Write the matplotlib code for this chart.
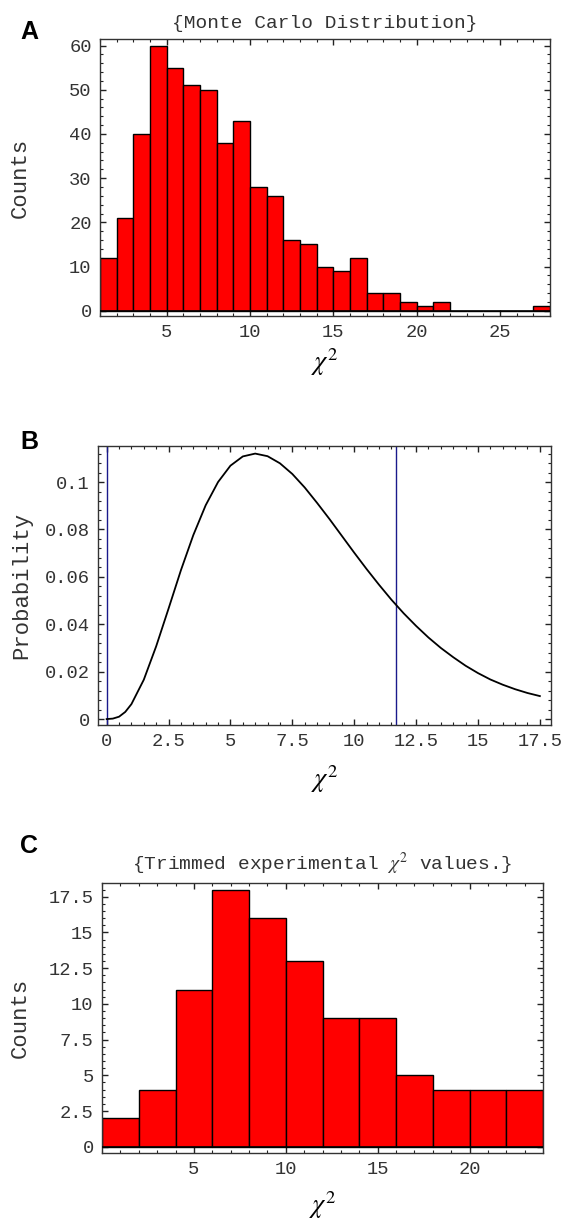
import numpy as np
import matplotlib
matplotlib.use("Agg")
import matplotlib.pyplot as plt
from matplotlib.ticker import FixedLocator, MultipleLocator

# panel A: Monte Carlo histogram, unit bins from 1 to 28
mc_edges = list(range(1, 29))
mc_counts = [12, 21, 40, 60, 55, 51, 50, 38, 43, 28, 26, 16, 15, 10, 9, 12,
             4, 4, 2, 1, 2, 0, 0, 0, 0, 0, 1]
a_xticks = [5, 10, 15, 20, 25]
a_yticks = [0, 10, 20, 30, 40, 50, 60]

# panel B: probability curve
pdf_x = [0, 0.25, 0.5, 0.75, 1, 1.5, 2, 2.5, 3, 3.5, 4, 4.5, 5, 5.5, 6, 6.5,
         7, 7.5, 8, 8.5, 9, 9.5, 10, 10.5, 11, 11.5, 12, 12.5, 13, 13.5, 14,
         14.5, 15, 15.5, 16, 16.5, 17, 17.5]
pdf_y = [0, 0.0002, 0.001, 0.003, 0.0063, 0.0166, 0.0307, 0.0466, 0.0628,
         0.0776, 0.0902, 0.1000, 0.1069, 0.1108, 0.1120, 0.1109, 0.1079,
         0.1034, 0.0977, 0.0912, 0.0844, 0.0773, 0.0702, 0.0633, 0.0567,
         0.0504, 0.0446, 0.0393, 0.0344, 0.0300, 0.0261, 0.0225, 0.0194,
         0.0167, 0.0145, 0.0126, 0.0110, 0.0097]
vlines_x = [0.0, 11.7]
b_xticks = [0, 2.5, 5, 7.5, 10, 12.5, 15, 17.5]
b_xlabels = ["0", "2.5", "5", "7.5", "10", "12.5", "15", "17.5"]
b_yticks = [0, 0.02, 0.04, 0.06, 0.08, 0.1]
b_ylabels = ["0", "0.02", "0.04", "0.06", "0.08", "0.1"]

# panel C: trimmed experimental values, bins of width 2
ex_edges = list(range(0, 26, 2))
ex_counts = [2, 4, 11, 18, 16, 13, 9, 9, 5, 4, 4, 4]
c_xticks = [5, 10, 15, 20]
c_yticks = [0, 2.5, 5, 7.5, 10, 12.5, 15, 17.5]
c_ylabels = ["0", "2.5", "5", "7.5", "10", "12.5", "15", "17.5"]

W, H = 562, 1223
MONO = "Liberation Mono"
GREY = "#333333"
plt.rcParams["mathtext.fontset"] = "stix"

fig = plt.figure(figsize=(W / 100, H / 100), dpi=100)


def px_axes(left, right, top, bottom):
  ax = fig.add_axes([left / W, 1 - bottom / H, (right - left) / W, (bottom - top) / H])
  ax._px = (left, right, top, bottom)
  return ax


def style(ax, xmin, ymin):
  for s in ax.spines.values():
    s.set_color(GREY)
    s.set_linewidth(1.0)
  ax.xaxis.set_minor_locator(MultipleLocator(xmin))
  ax.yaxis.set_minor_locator(MultipleLocator(ymin))
  ax.tick_params(which="both", direction="in", top=True, right=True, colors="#222222",
                 labelsize=13.5, labelcolor=GREY)
  ax.tick_params(which="major", length=4, width=1)
  ax.tick_params(which="minor", length=2, width=0.8)
  ax.tick_params(axis="x", pad=6)
  ax.tick_params(axis="y", pad=6)
  for lab in ax.get_xticklabels() + ax.get_yticklabels():
    lab.set_fontfamily(MONO)


def labels(ax, ylabel, ylab_x, xlab_y, title=None, title_y=None):
  left, right, top, bottom = ax._px
  ax.set_ylabel(ylabel, fontfamily=MONO, fontsize=16, color=GREY, va="center")
  ax.yaxis.set_label_coords((ylab_x - left) / (right - left), 0.5)
  ax.set_xlabel(r"$\chi^2$", fontsize=19, va="center")
  ax.xaxis.set_label_coords(0.5, (bottom - xlab_y) / (bottom - top))
  if title:
    ax.text(0.5, (bottom - title_y) / (bottom - top), title, transform=ax.transAxes,
            fontfamily=MONO, fontsize=14, color=GREY, ha="center", va="center")


def hist(ax, edges, counts):
  ax.bar(edges[:-1], counts, width=np.diff(edges), align="edge", color="#ff0000",
         edgecolor="black", linewidth=1.0, zorder=2)
  ax.axhline(0, color="black", linewidth=1.2, zorder=3)


def letter(s, y):
  fig.text(29 / W, 1 - y / H, s, fontfamily="Liberation Sans", fontweight="bold",
           fontsize=18, ha="center", va="center")


# ---- A
ax = px_axes(100, 550, 39, 316)
hist(ax, mc_edges, mc_counts)
ax.set_xlim(1, 28)
ax.set_ylim(-1.2, 61.5)
ax.xaxis.set_major_locator(FixedLocator(a_xticks))
ax.yaxis.set_major_locator(FixedLocator(a_yticks))
ax.set_xticklabels([str(t) for t in a_xticks])
ax.set_yticklabels([str(t) for t in a_yticks])
style(ax, 1, 2)
labels(ax, "Counts", 20, 362, "{Monte Carlo Distribution}", 23)
letter("A", 32)

# ---- B
ax = px_axes(98, 551, 446, 725)
ax.plot(pdf_x, pdf_y, color="black", linewidth=1.3, zorder=3)
for v in vlines_x:
  ax.axvline(v, color="#1a1a8c", linewidth=1.0, zorder=2)
ax.set_xlim(-0.35, 17.95)
ax.set_ylim(-0.0025, 0.1152)
ax.xaxis.set_major_locator(FixedLocator(b_xticks))
ax.yaxis.set_major_locator(FixedLocator(b_yticks))
ax.set_xticklabels(b_xlabels)
ax.set_yticklabels(b_ylabels)
style(ax, 0.5, 0.004)
labels(ax, "Probability", 22, 779)
letter("B", 442)

# ---- C
ax = px_axes(102, 543, 883, 1153)
hist(ax, ex_edges, ex_counts)
ax.set_xlim(0, 24)
ax.set_ylim(-0.44, 18.46)
ax.xaxis.set_major_locator(FixedLocator(c_xticks))
ax.yaxis.set_major_locator(FixedLocator(c_yticks))
ax.set_xticklabels([str(t) for t in c_xticks])
ax.set_yticklabels(c_ylabels)
style(ax, 1, 0.5)
labels(ax, "Counts", 20, 1205, r"{Trimmed experimental $\chi^2$ values.}", 864)
letter("C", 846)

fig.savefig("out.png", dpi=100)
